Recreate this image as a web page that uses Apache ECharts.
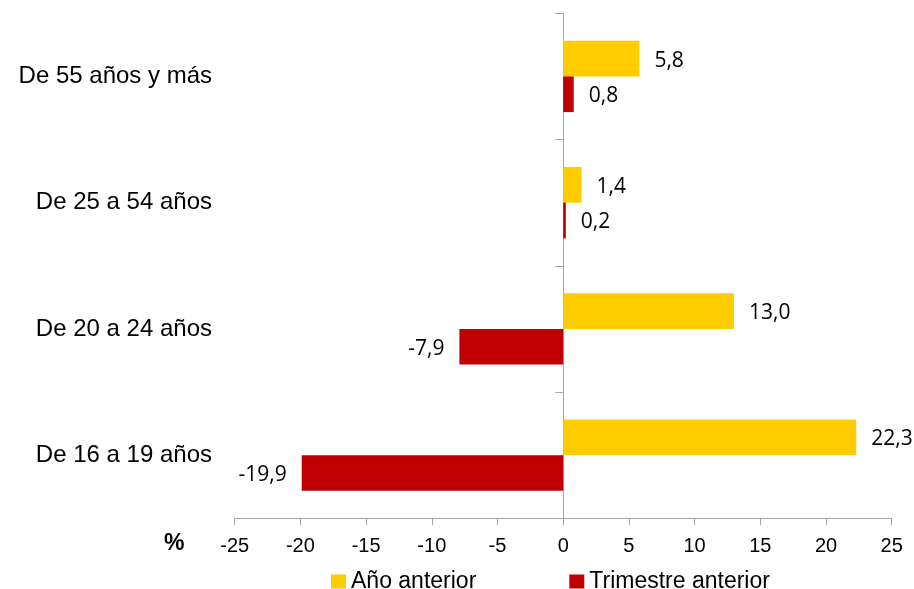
<!DOCTYPE html>
<html>
<head>
<meta charset="utf-8">
<script src="https://cdn.jsdelivr.net/npm/echarts@6/dist/echarts.min.js"></script>
<style>html,body{margin:0;padding:0;background:#fff}#c{width:914px;height:589px}</style>
</head>
<body>
<div id="c"></div>
<script>
const categories = ['De 16 a 19 años', 'De 20 a 24 años', 'De 25 a 54 años', 'De 55 años y más'];
const anioAnterior = [22.3, 13.0, 1.4, 5.8];
const trimestreAnterior = [-19.9, -7.9, 0.2, 0.8];
const xTicks = [-25, 25, 5];
const seriesNames = ['Año anterior', 'Trimestre anterior'];

const fmt = v => v.toFixed(1).replace('.', ',');
const toItems = arr => arr.map(v => ({ value: v, label: { position: v < 0 ? 'left' : 'right' } }));

const chart = echarts.init(document.getElementById('c'));
const lblStyle = { show: true, distance: 15, offset: [0, 2], fontFamily: 'Open Sans', fontSize: 21, color: '#000', formatter: p => fmt(p.value) };
chart.setOption({
  animation: false,
  grid: { left: 234.7, right: 22.3, top: 13.3, bottom: 70.7, containLabel: false, outerBoundsMode: 'none' },
  legend: {
    data: seriesNames, left: 326, top: 565, itemWidth: 15, itemHeight: 14, itemGap: 93,
    icon: 'rect', textStyle: { fontFamily: 'Liberation Sans', fontSize: 23, color: '#000', padding: [0,0,0,0] }
  },
  xAxis: {
    type: 'value', min: xTicks[0], max: xTicks[1], interval: xTicks[2],
    splitLine: { show: false },
    axisLine: { show: true, lineStyle: { color: '#A6A6A6', width: 1 } },
    axisTick: { show: true, length: 7, lineStyle: { color: '#A6A6A6' } },
    axisLabel: { fontFamily: 'Liberation Sans', fontSize: 20, color: '#000', margin: 18 }
  },
  yAxis: {
    type: 'category', data: categories,
    axisLine: { show: true, onZero: true, lineStyle: { color: '#A6A6A6', width: 1 } },
    axisTick: { show: true, length: 8, lineStyle: { color: '#A6A6A6' } },
    axisLabel: { fontFamily: 'Liberation Sans', fontSize: 24, color: '#000', margin: 22.7 }
  },
  graphic: [{ type: 'text', left: 164, top: 532, style: { text: '%', font: 'bold 23px "Liberation Sans"', fill: '#000' } }],
  series: [
    { name: seriesNames[0], type: 'bar', data: toItems(anioAnterior), itemStyle: { color: '#FFCC00' }, barGap: '0%', barCategoryGap: '43.5%', label: lblStyle },
    { name: seriesNames[1], type: 'bar', data: toItems(trimestreAnterior), itemStyle: { color: '#C00000' }, barGap: '0%', barCategoryGap: '43.5%', label: lblStyle }
  ]
});
</script>
</body>
</html>
